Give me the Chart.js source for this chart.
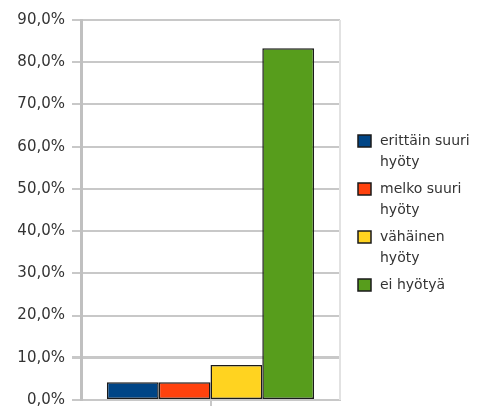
<!DOCTYPE html>
<html>
<head>
<meta charset="utf-8">
<script src="https://cdn.jsdelivr.net/npm/chart.js@4/dist/chart.umd.min.js"></script>
<style>
  html, body { margin: 0; padding: 0; background: #fff; }
  #wrap { width: 477px; height: 408px; position: relative; }
</style>
</head>
<body>
<div id="wrap"><canvas id="c"></canvas></div>
<script>
(function(){
  // data (percent of answers)
  const seriesLabels = ['erittäin suuri hyöty', 'melko suuri hyöty', 'vähäinen hyöty', 'ei hyötyä'];
  const seriesValues = [4.2, 4.2, 8.3, 83.3];
  const seriesColors = ['#004586', '#ff420e', '#ffd320', '#579d1c'];
  const categories = [''];
  const yTicks = { min: 0, max: 90, step: 10 };

  const FONT = 'DejaVu Sans';
  const TEXT = '#333333';
  const GRID = '#c8c8c8';

  // legend drawn on the right side, wrapping long labels like the original
  const sideLegend = {
    id: 'sideLegend',
    afterDraw(chart) {
      const ctx = chart.ctx;
      const x0 = 358, tx = 380, maxW = 95;
      let y = 141;
      ctx.save();
      ctx.font = '14px "' + FONT + '"';
      ctx.textBaseline = 'middle';
      chart.data.datasets.forEach((ds) => {
        const words = ds.label.split(' ');
        const lines = [];
        let cur = '';
        words.forEach(w => {
          const t = cur ? cur + ' ' + w : w;
          if (cur && ctx.measureText(t).width > maxW) { lines.push(cur); cur = w; }
          else cur = t;
        });
        if (cur) lines.push(cur);

        ctx.fillStyle = ds.backgroundColor;
        ctx.fillRect(x0, y - 6, 13, 12);
        ctx.strokeStyle = '#1a1a1a';
        ctx.lineWidth = 1.5;
        ctx.strokeRect(x0, y - 6, 13, 12);

        ctx.fillStyle = TEXT;
        lines.forEach((ln, i) => ctx.fillText(ln, tx, y + i * 21));
        y += 48;
      });
      ctx.restore();
    }
  };

  // right-hand frame line of the plot area
  const frame = {
    id: 'frame',
    beforeDatasetsDraw(chart) {
      const { ctx, chartArea: a } = chart;
      ctx.save();
      ctx.strokeStyle = '#e2e2e2';
      ctx.lineWidth = 2;
      ctx.beginPath();
      ctx.moveTo(a.right, a.top);
      ctx.lineTo(a.right, a.bottom);
      ctx.stroke();
      ctx.restore();
    }
  };

  new Chart(document.getElementById('c'), {
    type: 'bar',
    data: {
      labels: categories,
      datasets: seriesLabels.map((label, i) => ({
        label,
        data: [seriesValues[i]],
        backgroundColor: seriesColors[i],
        borderColor: '#1a1a1a',
        borderWidth: 1.5,
        borderSkipped: false,
        categoryPercentage: 0.8,
        barPercentage: 1.0
      }))
    },
    options: {
      responsive: true,
      maintainAspectRatio: false,
      animation: false,
      layout: { padding: { top: 20, right: 137, bottom: 2, left: 0 } },
      plugins: {
        legend: { display: false },
        tooltip: { enabled: false }
      },
      scales: {
        x: {
          ticks: { display: false },
          grid: { display: true, offset: false, drawOnChartArea: false, drawTicks: true, tickLength: 6, color: GRID, lineWidth: 2 },
          border: { display: true, color: GRID, width: 2 },
          afterFit: s => { s.height = 6; }
        },
        y: {
          min: yTicks.min,
          max: yTicks.max,
          ticks: {
            stepSize: yTicks.step,
            padding: 7,
            color: TEXT,
            font: { family: FONT, size: 15 },
            callback: v => v.toFixed(1).replace('.', ',') + '%'
          },
          grid: {
            color: GRID,
            lineWidth: c => (c.tick && c.tick.value === 10 ? 3 : 2),
            tickLength: 9
          },
          border: { display: true, color: '#c0c0c0', width: 3 },
          afterFit: s => { s.width = 81; s.paddingTop = 0; s.paddingBottom = 0; }
        }
      }
    },
    plugins: [frame, sideLegend]
  });
})();
</script>
</body>
</html>
